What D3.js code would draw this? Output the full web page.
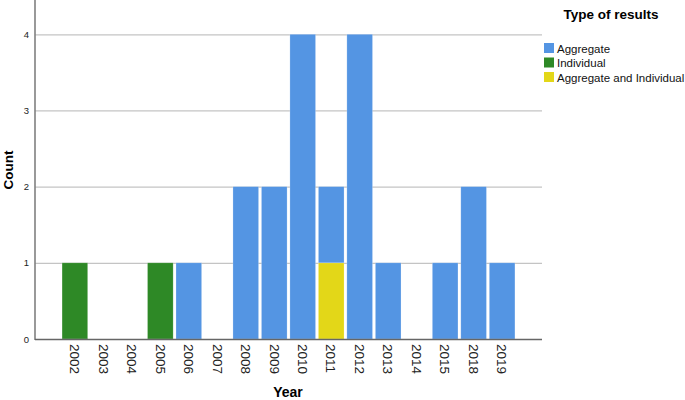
<!DOCTYPE html>
<html>
<head>
<meta charset="utf-8">
<script src="https://cdn.jsdelivr.net/npm/d3@7"></script>
<style>
  body { margin: 0; background: #fff; }
  svg { display: block; font-family: "Liberation Sans", Arial, sans-serif; }
</style>
</head>
<body>
<script>
// years on the x axis (2016 and 2017 are not there)
var years = ["2002","2003","2004","2005","2006","2007","2008","2009","2010",
             "2011","2012","2013","2014","2015","2018","2019"];
var aggregate  = [0,0,0,0,1,0,2,2,4,1,4,1,0,1,2,1];
var individual = [1,0,0,1,0,0,0,0,0,0,0,0,0,0,0,0];
var aggAndInd  = [0,0,0,0,0,0,0,0,0,1,0,0,0,0,0,0];
var seriesNames = ["Aggregate", "Individual", "Aggregate and Individual"];
var yTicks = [0, 1, 2, 3, 4];

var colors = {
    "Aggregate": "#5495e3",
    "Individual": "#2e8926",
    "Aggregate and Individual": "#e3d718"
};

var width = 685, height = 400;
var plotLeft = 35, plotRight = 542, plotTop = 0, plotBottom = 339;

var rows = years.map(function(y, i) {
    return { year: y, "Aggregate": aggregate[i], "Individual": individual[i],
             "Aggregate and Individual": aggAndInd[i] };
});

// bottom of the stack first
var stack = d3.stack().keys(["Aggregate and Individual", "Individual", "Aggregate"]);
var layers = stack(rows);

var x = d3.scaleBand().domain(years).range([plotLeft, plotRight])
    .paddingInner(0.1).paddingOuter(0.95);
var y = d3.scaleLinear().domain([0, 4.45]).range([plotBottom, plotTop]);

var svg = d3.select("body").append("svg")
    .attr("width", width).attr("height", height);

// gridlines
svg.append("g").selectAll("line")
    .data(yTicks.filter(function(t) { return t > 0; }))
    .enter().append("line")
    .attr("x1", plotLeft).attr("x2", plotRight)
    .attr("y1", function(d) { return y(d) + 0.5; })
    .attr("y2", function(d) { return y(d) + 0.5; })
    .attr("stroke", "#c4c4c4").attr("stroke-width", 1.2);

// bars
svg.append("g").selectAll("g")
    .data(layers)
    .enter().append("g")
    .attr("fill", function(d) { return colors[d.key]; })
    .selectAll("rect")
    .data(function(d) { return d.filter(function(s) { return s[1] > s[0]; }); })
    .enter().append("rect")
    .attr("x", function(d) { return x(d.data.year); })
    .attr("width", x.bandwidth())
    .attr("y", function(d) { return y(d[1]); })
    .attr("height", function(d) { return y(d[0]) - y(d[1]); })
    .attr("stroke", "#ffffff").attr("stroke-opacity", 0.35).attr("stroke-width", 0.6);

// y axis
var yAxis = svg.append("g")
    .attr("transform", "translate(" + plotLeft + ",0)")
    .call(d3.axisLeft(y).tickValues(yTicks).tickSize(0).tickPadding(6).tickFormat(d3.format("d")));
yAxis.select(".domain").remove();
yAxis.selectAll("text").attr("font-size", 9.5).attr("fill", "#222")
    .attr("font-family", "Liberation Sans, Arial, sans-serif");
svg.append("line").attr("x1", plotLeft).attr("x2", plotLeft).attr("y1", 0).attr("y2", plotBottom + 1)
    .attr("stroke", "#808080").attr("stroke-width", 1.6);

// x axis
var xAxis = svg.append("g")
    .attr("transform", "translate(0," + plotBottom + ")")
    .call(d3.axisBottom(x).tickSize(0));
xAxis.select(".domain").remove();
xAxis.selectAll("text")
    .attr("font-size", 13.5).attr("fill", "#222")
    .attr("font-family", "Liberation Sans, Arial, sans-serif")
    .attr("transform", "rotate(90)")
    .attr("text-anchor", "start")
    .attr("x", 5).attr("y", 0).attr("dy", "0.35em");
svg.append("line").attr("x1", plotLeft).attr("x2", plotRight)
    .attr("y1", plotBottom + 0.5).attr("y2", plotBottom + 0.5)
    .attr("stroke", "#666").attr("stroke-width", 1.4);

// axis titles
svg.append("text").attr("x", 288).attr("y", 397)
    .attr("text-anchor", "middle").attr("font-weight", "bold").attr("font-size", 14)
    .text("Year");
svg.append("text")
    .attr("transform", "translate(13,170) rotate(-90)")
    .attr("text-anchor", "middle").attr("font-weight", "bold").attr("font-size", 13.5)
    .text("Count");

// legend
svg.append("text").attr("x", 611).attr("y", 19)
    .attr("text-anchor", "middle").attr("font-weight", "bold").attr("font-size", 13.5)
    .text("Type of results");
var legend = svg.append("g").selectAll("g")
    .data(seriesNames)
    .enter().append("g")
    .attr("transform", function(d, i) { return "translate(544," + (43 + i * 14.5) + ")"; });
legend.append("rect").attr("width", 10).attr("height", 10)
    .attr("fill", function(d) { return colors[d]; });
legend.append("text").attr("x", 13).attr("y", 9.5)
    .attr("font-size", 11.5).attr("fill", "#111")
    .text(function(d) { return d; });
</script>
</body>
</html>
